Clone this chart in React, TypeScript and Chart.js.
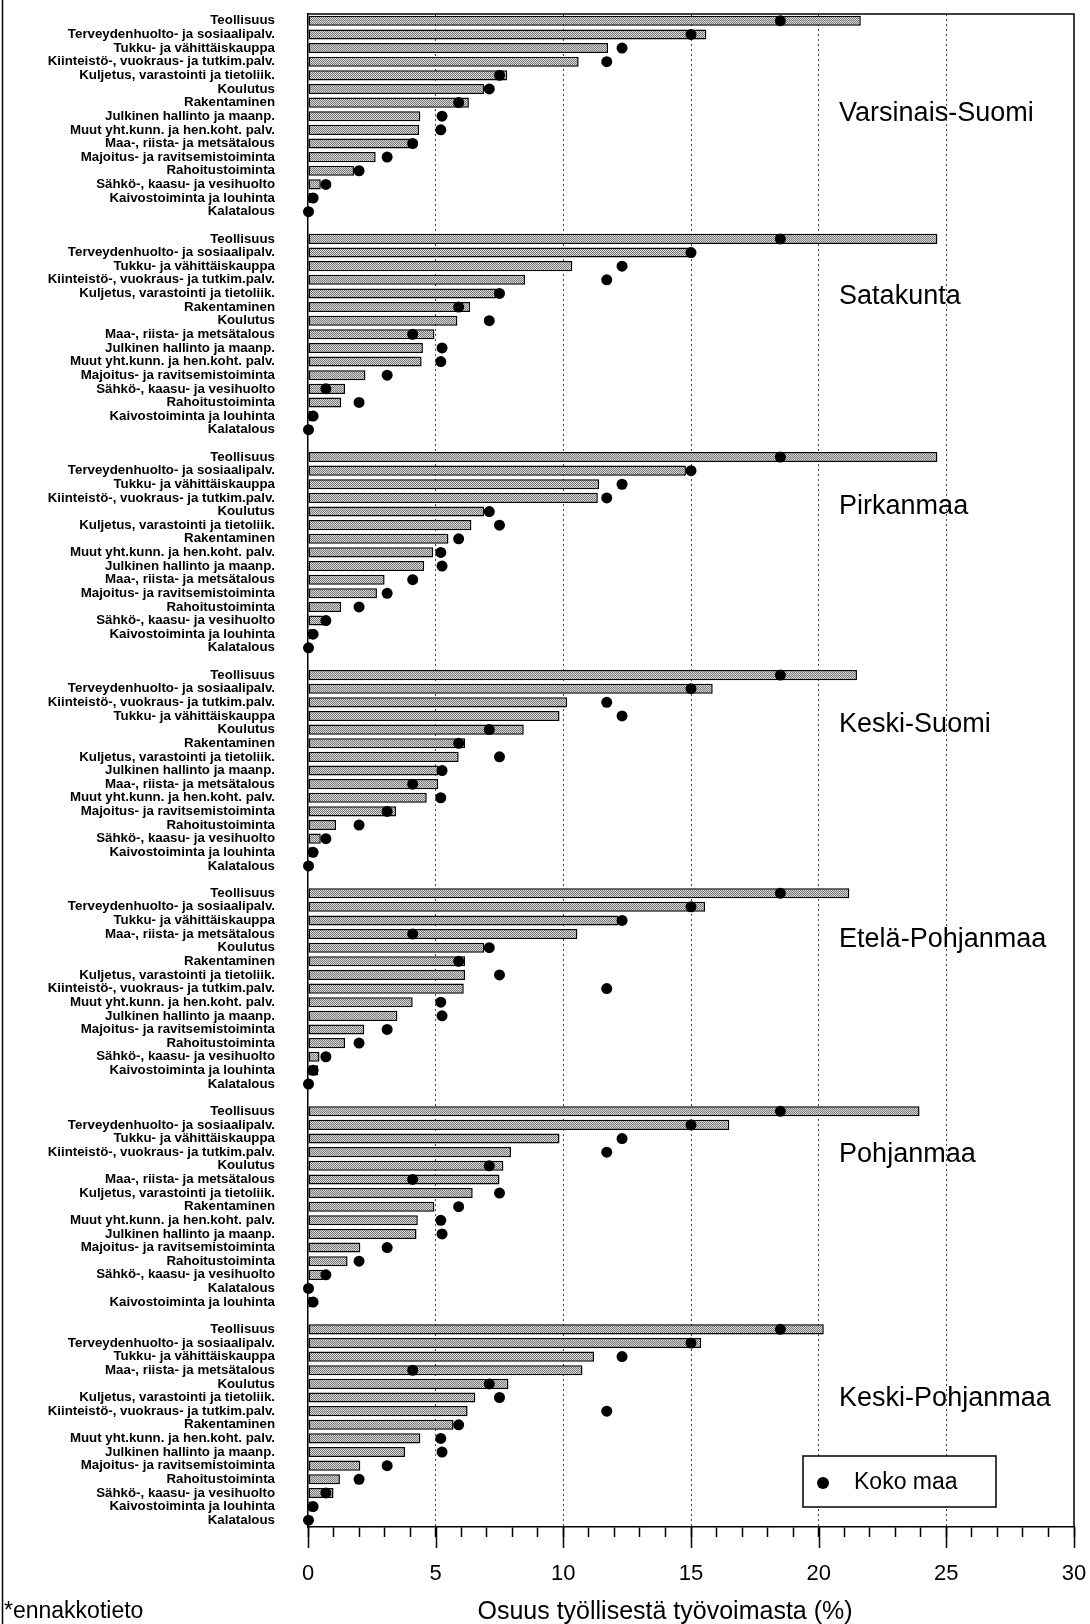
import React, { useEffect, useRef } from 'react';
import { Chart, registerables } from 'chart.js';

Chart.register(...registerables);

// ---- DATA ----
const categories = [
  'Teollisuus', // 0
  'Terveydenhuolto- ja sosiaalipalv.', // 1
  'Tukku- ja vähittäiskauppa', // 2
  'Kiinteistö-, vuokraus- ja tutkim.palv.', // 3
  'Kuljetus, varastointi ja tietoliik.', // 4
  'Koulutus', // 5
  'Rakentaminen', // 6
  'Julkinen hallinto ja maanp.', // 7
  'Muut yht.kunn. ja hen.koht. palv.', // 8
  'Maa-, riista- ja metsätalous', // 9
  'Majoitus- ja ravitsemistoiminta', // 10
  'Rahoitustoiminta', // 11
  'Sähkö-, kaasu- ja vesihuolto', // 12
  'Kaivostoiminta ja louhinta', // 13
  'Kalatalous', // 14
];

// Koko maa (whole country), same order as categories
const kokoMaa = [18.5, 15.0, 12.3, 11.7, 7.5, 7.1, 5.9, 5.25, 5.2, 4.1, 3.1, 2.0, 0.7, 0.2, 0.02];

const regionNames = [
  'Varsinais-Suomi',
  'Satakunta',
  'Pirkanmaa',
  'Keski-Suomi',
  'Etelä-Pohjanmaa',
  'Pohjanmaa',
  'Keski-Pohjanmaa',
];

const varsinaisSuomiOrder = [0, 1, 2, 3, 4, 5, 6, 7, 8, 9, 10, 11, 12, 13, 14];
const varsinaisSuomiValues = [21.65, 15.6, 11.75, 10.6, 7.8, 6.9, 6.3, 4.4, 4.35, 4.0, 2.65, 1.8, 0.5, 0.15, 0.02];

const satakuntaOrder = [0, 1, 2, 3, 4, 6, 5, 9, 7, 8, 10, 12, 11, 13, 14];
const satakuntaValues = [24.65, 15.1, 10.35, 8.5, 7.4, 6.35, 5.85, 4.95, 4.5, 4.45, 2.25, 1.45, 1.3, 0.15, 0.02];

const pirkanmaaOrder = [0, 1, 2, 3, 5, 4, 6, 8, 7, 9, 10, 11, 12, 13, 14];
const pirkanmaaValues = [24.65, 14.8, 11.4, 11.35, 6.9, 6.4, 5.5, 4.9, 4.55, 3.0, 2.7, 1.3, 0.6, 0.15, 0.02];

const keskiSuomiOrder = [0, 1, 3, 2, 5, 6, 4, 7, 9, 8, 10, 11, 12, 13, 14];
const keskiSuomiValues = [21.5, 15.85, 10.15, 9.85, 8.45, 6.15, 5.9, 5.1, 5.1, 4.65, 3.45, 1.1, 0.5, 0.15, 0.02];

const etelaPohjanmaaOrder = [0, 1, 2, 9, 5, 6, 4, 3, 8, 7, 10, 11, 12, 13, 14];
const etelaPohjanmaaValues = [21.2, 15.55, 12.15, 10.55, 6.9, 6.15, 6.15, 6.1, 4.1, 3.5, 2.2, 1.45, 0.45, 0.4, 0.02];

const pohjanmaaOrder = [0, 1, 2, 3, 5, 9, 4, 6, 8, 7, 10, 11, 12, 14, 13];
const pohjanmaaValues = [23.95, 16.5, 9.85, 7.95, 7.65, 7.5, 6.45, 4.95, 4.3, 4.25, 2.05, 1.55, 0.6, 0.02, 0.15];

const keskiPohjanmaaOrder = [0, 1, 2, 9, 5, 4, 3, 6, 8, 7, 10, 11, 12, 13, 14];
const keskiPohjanmaaValues = [20.2, 15.4, 11.2, 10.75, 7.85, 6.55, 6.25, 5.7, 4.4, 3.8, 2.05, 1.25, 1.0, 0.15, 0.02];

const xTickLabels = ['0', '5', '10', '15', '20', '25', '30'];
const xAxisTitle = 'Osuus työllisestä työvoimasta (%)';
const footnote = '*ennakkotieto';
const legendLabel = 'Koko maa';

// ---- BUILD TABLE ----
const panelOrders = [
  varsinaisSuomiOrder,
  satakuntaOrder,
  pirkanmaaOrder,
  keskiSuomiOrder,
  etelaPohjanmaaOrder,
  pohjanmaaOrder,
  keskiPohjanmaaOrder,
];
const panelValues = [
  varsinaisSuomiValues,
  satakuntaValues,
  pirkanmaaValues,
  keskiSuomiValues,
  etelaPohjanmaaValues,
  pohjanmaaValues,
  keskiPohjanmaaValues,
];

const labels: string[] = [];
const barData: (number | null)[] = [];
const dotData: (number | null)[] = [];
const panelStart: number[] = [];
panelOrders.forEach((order, pi) => {
  if (pi > 0) {
    labels.push('');
    barData.push(null);
    dotData.push(null);
  }
  panelStart.push(labels.length);
  order.forEach((ci, k) => {
    labels.push(categories[ci]);
    barData.push(panelValues[pi][k]);
    dotData.push(kokoMaa[ci]);
  });
});

const FONT = '"Liberation Sans", Arial, Helvetica, sans-serif';
// vertical placement of each region name, in rows from the panel's first row
const regionLabelRow = [6.8, 4.2, 3.6, 3.65, 3.4, 3.2, 5.1];

function makePattern(): CanvasPattern | string {
  const c = document.createElement('canvas');
  c.width = 4;
  c.height = 4;
  const g = c.getContext('2d');
  if (!g) return '#afafaf';
  g.fillStyle = '#d9d9d9';
  g.fillRect(0, 0, 4, 4);
  g.fillStyle = '#767676';
  for (let yy = 0; yy < 4; yy++) {
    for (let xx = 0; xx < 4; xx++) {
      if ((xx + yy) % 2 === 0) g.fillRect(xx, yy, 1, 1);
    }
  }
  const p = g.createPattern(c, 'repeat');
  return p || '#afafaf';
}

const decorPlugin = {
  id: 'decor',
  afterDraw(chart: any) {
    const { ctx, chartArea: a, scales } = chart;
    const x = scales.x;
    const y = scales.y;
    ctx.save();
    ctx.strokeStyle = '#000';
    ctx.lineWidth = 1.5;
    // top + right frame
    ctx.beginPath();
    ctx.moveTo(a.left, a.top);
    ctx.lineTo(a.right, a.top);
    ctx.lineTo(a.right, a.bottom);
    ctx.stroke();
    // longer major ticks
    for (let v = 0; v <= 30; v += 5) {
      const px = Math.round(x.getPixelForValue(v)) + 0.5;
      ctx.beginPath();
      ctx.moveTo(px, a.bottom);
      ctx.lineTo(px, a.bottom + 21);
      ctx.stroke();
    }
    // outer left frame line
    ctx.beginPath();
    ctx.moveTo(2.5, 0);
    ctx.lineTo(2.5, chart.height);
    ctx.stroke();

    // region names
    ctx.fillStyle = '#000';
    ctx.font = `27px ${FONT}`;
    ctx.textAlign = 'left';
    ctx.textBaseline = 'middle';
    regionNames.forEach((n, i) => {
      ctx.fillText(n, x.getPixelForValue(20.8), y.getPixelForValue(panelStart[i] + regionLabelRow[i]));
    });

    // legend box
    const lx = 803, ly = 1456, lw = 193, lh = 51;
    ctx.fillStyle = '#fff';
    ctx.fillRect(lx, ly, lw, lh);
    ctx.strokeRect(lx, ly, lw, lh);
    ctx.fillStyle = '#000';
    ctx.beginPath();
    ctx.arc(lx + 20, ly + 27, 6, 0, Math.PI * 2);
    ctx.fill();
    ctx.font = `23px ${FONT}`;
    ctx.fillText(legendLabel, lx + 51, ly + 27);

    // axis title & footnote
    ctx.font = `25px ${FONT}`;
    ctx.textAlign = 'center';
    ctx.fillText(xAxisTitle, 665, 1612);
    ctx.textAlign = 'left';
    ctx.font = `23px ${FONT}`;
    ctx.fillText(footnote, 4, 1612);
    ctx.restore();
  },
};

export default function App() {
  const ref = useRef<HTMLCanvasElement | null>(null);
  useEffect(() => {
    document.body.style.margin = '0';
    const canvas = ref.current;
    if (!canvas) return;
    const pattern = makePattern();
    const chart = new Chart(canvas, {
      type: 'bar',
      data: {
        labels,
        datasets: [
          {
            type: 'line',
            label: legendLabel,
            data: dotData,
            indexAxis: 'y',
            showLine: false,
            pointRadius: 5.5,
            pointHoverRadius: 5.5,
            pointBackgroundColor: '#000',
            pointBorderColor: '#000',
            pointBorderWidth: 0,
            clip: false,
            order: 0,
          } as any,
          {
            type: 'bar',
            label: 'Alue',
            data: barData,
            backgroundColor: pattern as any,
            borderColor: '#000',
            borderWidth: 1.5,
            borderSkipped: false,
            barPercentage: 0.74,
            categoryPercentage: 1,
            order: 1,
          } as any,
        ],
      },
      options: {
        indexAxis: 'y',
        responsive: false,
        maintainAspectRatio: false,
        animation: false,
        devicePixelRatio: 1,
        events: [],
        layout: { padding: { top: 14, right: 16, left: 0, bottom: 0 } },
        plugins: {
          legend: { display: false },
          tooltip: { enabled: false },
          title: { display: false },
        },
        scales: {
          x: {
            type: 'linear',
            position: 'bottom',
            min: 0,
            max: 30,
            afterFit: (s: any) => {
              s.height = 97;
              s.paddingLeft = 0;
              s.paddingRight = 0;
            },
            ticks: {
              stepSize: 1,
              autoSkip: false,
              maxRotation: 0,
              padding: 24,
              color: '#000',
              font: { family: FONT, size: 22 },
              callback: (v: any) => (Number(v) % 5 === 0 ? xTickLabels[Number(v) / 5] : ''),
            },
            grid: {
              color: (c: any) => {
                const v = c.tick ? c.tick.value : -1;
                return v % 5 === 0 && v > 0 && v < 30 ? '#444' : 'rgba(0,0,0,0)';
              },
              lineWidth: 1,
              drawTicks: true,
              tickLength: 10,
              tickColor: '#000',
              tickWidth: 1.5,
            },
            border: { display: true, color: '#000', width: 1.5, dash: [2, 3] },
          },
          y: {
            type: 'category',
            position: 'left',
            offset: true,
            afterFit: (s: any) => {
              s.width = 308;
              s.paddingTop = 0;
              s.paddingBottom = 0;
            },
            ticks: {
              autoSkip: false,
              padding: 33,
              color: '#000',
              font: { family: FONT, size: 13.3, weight: 'bold' },
            },
            grid: { display: false, drawTicks: false },
            border: { display: true, color: '#000', width: 1.5 },
          },
        },
      } as any,
      plugins: [decorPlugin],
    });
    return () => chart.destroy();
  }, []);
  return (
    <div style={{ position: 'absolute', left: 0, top: 0, width: 1090, height: 1624, background: '#fff' }}>
      <canvas ref={ref} width={1090} height={1624} style={{ display: 'block', width: 1090, height: 1624 }} />
    </div>
  );
}
